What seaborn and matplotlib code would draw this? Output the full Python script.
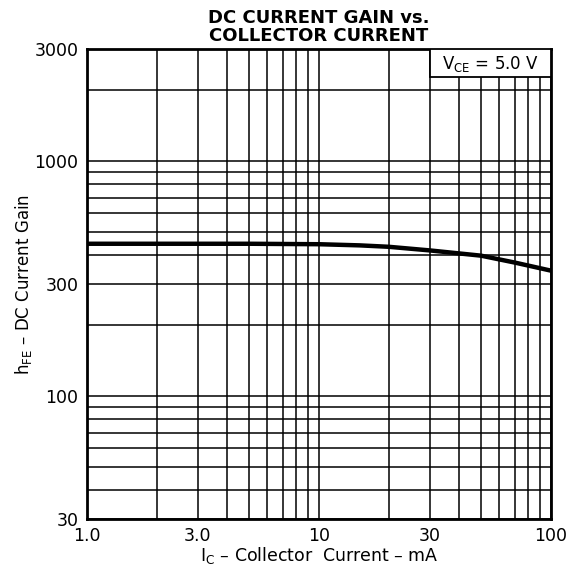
import numpy as np
import pandas as pd
import matplotlib
matplotlib.use("Agg")
import matplotlib.pyplot as plt
from matplotlib.patches import Rectangle
from matplotlib.ticker import FixedLocator, NullFormatter
import seaborn as sns

# DC current gain (VCE = 5.0 V)
ic_ma = [1, 2, 5, 10, 15, 20, 30, 50, 70, 100]
hfe = [445, 445, 445, 443, 438, 432, 417, 396, 370, 342]

x_ticks = [1, 3, 10, 30, 100]
x_tick_labels = ["1.0", "3.0", "10", "30", "100"]
y_ticks = [30, 100, 300, 1000, 3000]
y_tick_labels = ["30", "100", "300", "1000", "3000"]

data = pd.DataFrame({"ic": ic_ma, "hfe": hfe})

sns.set_theme(style="white")
plt.rcParams["font.family"] = ["DejaVu Sans"]
plt.rcParams["mathtext.default"] = "regular"
plt.rcParams["text.color"] = "black"
plt.rcParams["axes.labelcolor"] = "black"

fig = plt.figure(figsize=(5.75, 5.77), dpi=100)
ax = fig.add_axes([0.151, 0.1005, 0.807, 0.8146])

sns.lineplot(x="ic", y="hfe", data=data, color="black", linewidth=3.2, ax=ax, zorder=3)

ax.set_xscale("log")
ax.set_yscale("log")
ax.set_xlim(1, 100)
ax.set_ylim(30, 3000)

# grid on every 1-2-3..9 line of each decade
x_minor = [m * d for d in (1, 10) for m in range(2, 10)]
y_minor = [m * d for d in (10, 100, 1000) for m in range(2, 10) if 30 < m * d < 3000]
ax.xaxis.set_major_locator(FixedLocator(x_ticks))
ax.xaxis.set_minor_locator(FixedLocator(x_minor))
ax.yaxis.set_major_locator(FixedLocator(y_ticks))
ax.yaxis.set_minor_locator(FixedLocator(y_minor))
ax.set_xticklabels(x_tick_labels)
ax.set_yticklabels(y_tick_labels)
ax.xaxis.set_minor_formatter(NullFormatter())
ax.yaxis.set_minor_formatter(NullFormatter())
ax.tick_params(which="both", length=0, labelsize=12.5, labelcolor="black", pad=6)
ax.grid(which="both", color="black", linewidth=1.1)

for s in ax.spines.values():
    s.set_color("black")
    s.set_linewidth(2)

ax.set_xlabel("I$_{C}$ – Collector  Current – mA", fontsize=12.5, labelpad=0)
ax.set_ylabel("h$_{FE}$ – DC Current Gain", fontsize=12)
ax.yaxis.set_label_coords(-0.114, 0.5)
ax.set_title("DC CURRENT GAIN vs.\nCOLLECTOR CURRENT", fontsize=13, fontweight="bold",
             linespacing=0.95, pad=6)

# condition box in the upper right corner
ax.add_patch(Rectangle((0.7386, 0.94), 0.2614, 0.06, transform=ax.transAxes,
                       facecolor="white", edgecolor="black", linewidth=1.3, zorder=4))
ax.text(0.869, 0.968, "V$_{CE}$ = 5.0 V", transform=ax.transAxes, ha="center", va="center",
        fontsize=12, zorder=5)

plt.savefig("out.png", dpi=100)
plt.close()
